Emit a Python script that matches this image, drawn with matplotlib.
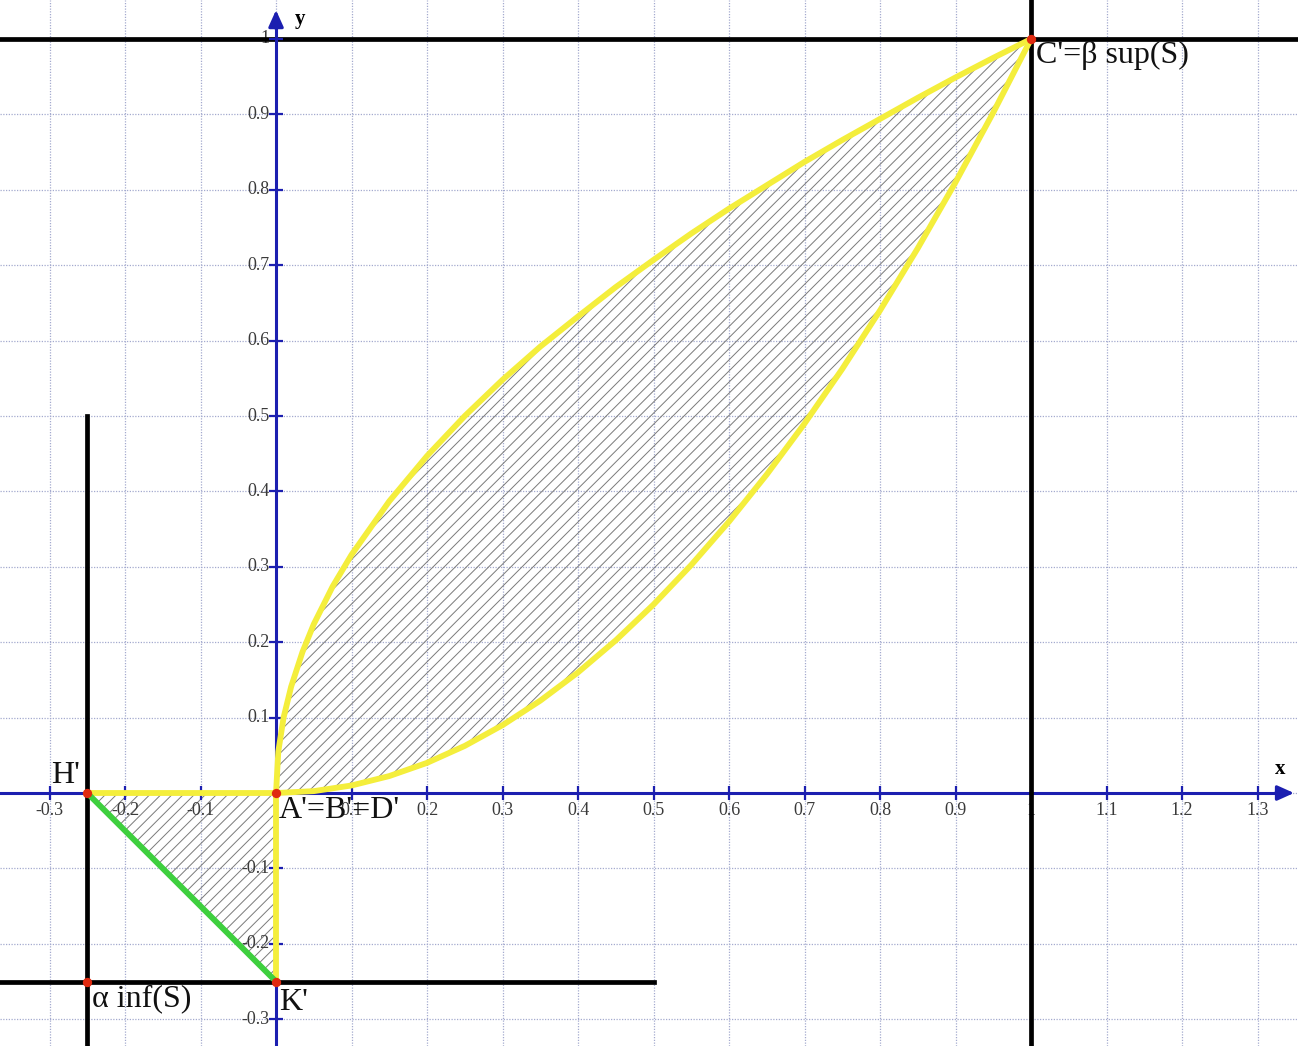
import numpy as np
import matplotlib.pyplot as plt

plt.rcParams['font.family'] = ['Liberation Serif', 'DejaVu Serif']
plt.rcParams['hatch.linewidth'] = 0.7
plt.rcParams['hatch.color'] = '#7a7a7a'

# upper curve
up_x = [0, 0.003, 0.01, 0.02, 0.035, 0.05, 0.075, 0.1, 0.15, 0.2, 0.25, 0.3,
        0.35, 0.4, 0.45, 0.5, 0.55, 0.6, 0.65, 0.7, 0.75, 0.8, 0.85, 0.9, 0.95, 1.0]
up_y = [0, 0.055, 0.10, 0.141, 0.187, 0.224, 0.274, 0.316, 0.387, 0.447, 0.50, 0.548,
        0.592, 0.632, 0.671, 0.707, 0.742, 0.775, 0.806, 0.837, 0.866, 0.894, 0.922, 0.949, 0.975, 1.0]

# lower curve
lo_x = [0, 0.05, 0.1, 0.15, 0.2, 0.25, 0.3, 0.35, 0.4, 0.45, 0.5, 0.55,
        0.6, 0.65, 0.7, 0.75, 0.8, 0.85, 0.9, 0.95, 1.0]
lo_y = [0, 0.0025, 0.01, 0.0225, 0.04, 0.0625, 0.09, 0.1225, 0.16, 0.2025, 0.25, 0.3025,
        0.36, 0.4225, 0.49, 0.5625, 0.64, 0.7225, 0.81, 0.9025, 1.0]

# triangle H' A' K'
tri_x = [-0.25, 0, 0]
tri_y = [0, 0, -0.25]

# points
pt_x = [0, 1, -0.25, 0, -0.25]
pt_y = [0, 1, 0, -0.25, -0.25]

x_ticks = [-0.3, -0.2, -0.1, 0.1, 0.2, 0.3, 0.4, 0.5, 0.6, 0.7, 0.8, 0.9, 1.0, 1.1, 1.2, 1.3]
x_labels = ['-0.3', '-0.2', '-0.1', '0.1', '0.2', '0.3', '0.4', '0.5', '0.6', '0.7',
            '0.8', '0.9', '1', '1.1', '1.2', '1.3']
y_ticks = [-0.3, -0.2, -0.1, 0.1, 0.2, 0.3, 0.4, 0.5, 0.6, 0.7, 0.8, 0.9, 1.0]
y_labels = ['-0.3', '-0.2', '-0.1', '0.1', '0.2', '0.3', '0.4', '0.5', '0.6', '0.7',
            '0.8', '0.9', '1']

xmin, xmax = -0.3656, 1.3536
ymin, ymax = -0.3355, 1.0517

fig = plt.figure(figsize=(12.98, 10.46), dpi=100)
ax = fig.add_axes([0, 0, 1, 1])
ax.set_xlim(xmin, xmax)
ax.set_ylim(ymin, ymax)
ax.axis('off')

# grid
grid_col = '#a4aacf'
for gx in np.arange(-0.3, 1.35, 0.1):
    ax.axvline(gx, color=grid_col, lw=0.9, ls=(0, (1, 1.2)), zorder=0)
for gy in np.arange(-0.3, 1.05, 0.1):
    ax.axhline(gy, color=grid_col, lw=0.9, ls=(0, (1, 1.2)), zorder=0)

# hatched regions
ax.fill(up_x + lo_x[::-1], up_y + lo_y[::-1], facecolor='none', edgecolor='#7a7a7a',
        hatch='///', lw=0, zorder=1)
ax.fill(tri_x, tri_y, facecolor='none', edgecolor='#7a7a7a', hatch='///', lw=0, zorder=1)

# axes
blue = '#1c1fb0'
ax.plot([xmin, 1.335], [0, 0], color=blue, lw=2.2, zorder=2)
ax.plot([0, 0], [ymin, 1.025], color=blue, lw=2.2, zorder=4)
ax.annotate('', xy=(1.352, 0), xytext=(1.32, 0),
            arrowprops=dict(arrowstyle='-|>,head_length=1.0,head_width=0.45', color=blue, lw=2.2), zorder=4)
ax.annotate('', xy=(0, 1.042), xytext=(0, 1.01),
            arrowprops=dict(arrowstyle='-|>,head_length=1.0,head_width=0.45', color=blue, lw=2.2), zorder=4)
ax.plot(x_ticks, [0] * len(x_ticks), ls='none', marker='|', ms=10, mew=1.6, color=blue, zorder=2)
ax.plot([0] * len(y_ticks), y_ticks, ls='none', marker='_', ms=10, mew=1.6, color=blue, zorder=4)

for v, s in zip(x_ticks, x_labels):
    ax.text(v, -0.012, s, ha='center', va='top', fontsize=13, color='#3a3a3a', zorder=2)
for v, s in zip(y_ticks, y_labels):
    ax.text(-0.008, v, s, ha='right', va='center', fontsize=13, color='#3a3a3a', zorder=2)
ax.text(1.33, 0.018, 'x', fontsize=15, fontweight='bold', ha='center', va='bottom')
ax.text(0.032, 1.013, 'y', fontsize=15, fontweight='bold', ha='center', va='bottom')

# black bounding lines
ax.axhline(1, color='black', lw=3.4, zorder=3)
ax.axvline(1, color='black', lw=3.4, zorder=3)
ax.plot([-0.25, -0.25], [ymin, 0.5], color='black', lw=3.4, zorder=3)
ax.plot([xmin, 0.5], [-0.25, -0.25], color='black', lw=3.4, zorder=3)

# yellow boundary
yellow = '#f4ee3c'
ax.plot(up_x, up_y, color=yellow, lw=4.2, zorder=5, solid_capstyle='round')
ax.plot(lo_x, lo_y, color=yellow, lw=4.2, zorder=5, solid_capstyle='round')
ax.plot([tri_x[0], tri_x[1]], [tri_y[0], tri_y[1]], color=yellow, lw=4.2, zorder=5)
ax.plot([tri_x[1], tri_x[2]], [tri_y[1], tri_y[2]], color=yellow, lw=4.2, zorder=5)
ax.plot([tri_x[0], tri_x[2]], [tri_y[0], tri_y[2]], color='#3ecf3e', lw=4.2, zorder=5)

ax.scatter(pt_x, pt_y, s=45, color='#e02a10', zorder=6, lw=0)

# point labels
lab_kw = dict(fontsize=23, color='#111111', zorder=7)
ax.text(1.006, 0.997, "C'=β sup(S)", ha='left', va='top', **lab_kw)
ax.text(-0.298, 0.004, "H'", ha='left', va='bottom', **lab_kw)
ax.text(0.004, -0.004, "A'=B'=D'", ha='left', va='top', **lab_kw)
ax.text(-0.244, -0.253, "α inf(S)", ha='left', va='top', **lab_kw)
ax.text(0.004, -0.258, "K'", ha='left', va='top', **lab_kw)

fig.savefig('out.png', dpi=100)
